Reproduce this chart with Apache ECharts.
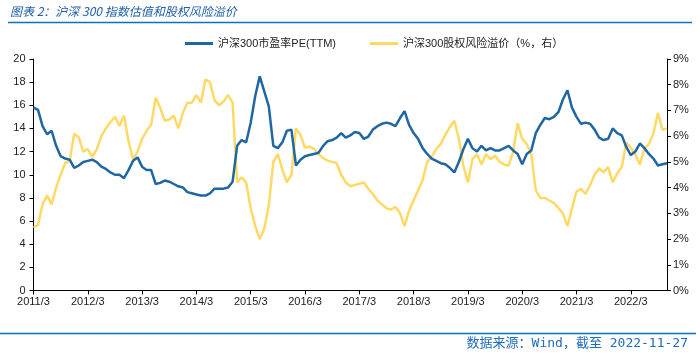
<!DOCTYPE html>
<html><head><meta charset="utf-8">
<script src="https://cdn.jsdelivr.net/npm/echarts@6/dist/echarts.min.js"></script>
<style>html,body{margin:0;padding:0;background:#fff;}#c{width:700px;height:357px;}</style>
</head><body><div id="c"></div>
<script>
const titleText = '图表 2：沪深 300 指数估值和股权风险溢价';
const sourceText = '数据来源：Wind，截至 2022-11-27';
const seriesNames = ['沪深300市盈率PE(TTM)', '沪深300股权风险溢价（%，右）'];
const startYear = 2011, startMonth = 3, monthCount = 141;
const leftTicks = [0, 20, 2];
const rightTicks = [0, 9, 1];

const pe = [
15.8,15.6,14.2,13.5,13.8,12.5,11.6,11.4,11.3,10.6,
10.8,11.1,11.2,11.3,11.1,10.7,10.5,10.2,10.0,10.0,
9.7,10.4,11.2,11.5,10.7,10.4,10.4,9.2,9.3,9.5,
9.4,9.2,9.0,8.9,8.5,8.4,8.3,8.2,8.2,8.4,
8.8,8.8,8.8,8.9,9.4,12.5,13.0,12.8,14.5,16.8,
18.5,17.2,15.9,12.5,12.3,12.8,13.8,13.9,10.8,11.3,
11.6,11.7,11.8,11.9,12.5,12.9,13.0,13.2,13.6,13.2,
13.4,13.7,13.6,13.1,13.3,13.9,14.2,14.4,14.5,14.4,
14.2,14.9,15.5,14.3,13.6,13.1,12.3,11.8,11.4,11.2,
11.0,10.9,10.6,10.2,11.1,12.2,13.1,12.3,12.0,12.5,
12.1,12.3,12.1,12.1,12.3,12.5,12.1,11.8,10.9,11.8,
12.1,13.6,14.3,14.9,14.8,15.0,15.4,16.5,17.3,15.8,
15.0,14.4,14.5,14.4,13.9,13.2,13.0,13.1,14.0,13.6,
13.4,12.4,11.7,12.0,12.7,12.3,11.8,11.4,10.8,10.9,
11.0
];
const erp = [
2.45,2.55,3.35,3.7,3.35,4.0,4.5,4.95,5.05,6.1,
5.95,5.4,5.5,5.2,5.5,6.0,6.3,6.55,6.75,6.4,
6.8,5.8,5.1,5.4,5.9,6.2,6.45,7.5,7.1,6.6,
6.65,6.8,6.3,6.9,7.3,7.3,7.6,7.3,8.2,8.1,
7.4,7.2,7.35,7.6,7.3,4.2,4.4,4.2,3.2,2.5,
2.0,2.4,3.3,5.0,5.3,4.7,4.2,4.5,6.3,6.05,
5.55,5.6,5.5,5.3,5.15,5.05,5.0,4.95,4.5,4.2,
4.05,4.1,4.15,4.2,3.95,3.75,3.5,3.35,3.2,3.15,
3.25,3.0,2.5,3.1,3.5,3.9,4.3,5.0,5.2,5.5,
5.7,6.05,6.35,6.6,5.9,4.85,4.2,5.1,5.3,4.9,
5.3,5.1,5.25,5.0,4.9,4.85,5.4,6.5,5.9,5.7,
5.3,3.9,3.6,3.6,3.5,3.4,3.2,3.0,2.5,3.2,
3.85,3.95,3.75,4.1,4.5,4.75,4.6,4.8,4.2,4.55,
4.8,5.75,5.55,5.3,4.9,5.5,5.7,6.1,6.9,6.25,
6.3
];

const categories = [];
for (let i = 0; i < monthCount; i++) {
  const t = (startMonth - 1) + i;
  categories.push((startYear + Math.floor(t / 12)) + '/' + (t % 12 + 1));
}

const blue = '#1f67a3', yellow = '#ffd966', accent = '#0a70c0';
const txt = '#222';
const ff = '"Liberation Sans", Arial, "Noto Sans CJK SC", sans-serif';

const chart = echarts.init(document.getElementById('c'), null, {renderer: 'canvas'});
chart.setOption({
  animation: false,
  backgroundColor: '#fff',
  textStyle: {fontFamily: ff},
  grid: {left: 33.5, right: 33, top: 59, bottom: 66.5, containLabel: false},
  legend: [
    {data: [seriesNames[0]], left: 180, top: 33, itemWidth: 28, itemHeight: 3, icon: 'rect',
     textStyle: {fontSize: 11, color: txt, fontFamily: ff}, itemGap: 4},
    {data: [seriesNames[1]], left: 365, top: 33, itemWidth: 28, itemHeight: 3, icon: 'rect',
     textStyle: {fontSize: 11, color: txt, fontFamily: ff}, itemGap: 4}
  ],
  xAxis: {
    type: 'category', data: categories, boundaryGap: false,
    axisLine: {lineStyle: {color: '#000', width: 1}},
    axisTick: {interval: 11, length: 4, lineStyle: {color: '#000'}},
    axisLabel: {interval: 11, color: txt, fontSize: 11, margin: 6, fontFamily: ff},
    splitLine: {show: false}
  },
  yAxis: [
    {type: 'value', min: leftTicks[0], max: leftTicks[1], interval: leftTicks[2],
     axisLine: {show: true, lineStyle: {color: '#000'}},
     axisTick: {show: true, length: 4, lineStyle: {color: '#000'}},
     axisLabel: {color: txt, fontSize: 11, margin: 8, fontFamily: ff},
     splitLine: {show: false}},
    {type: 'value', min: rightTicks[0], max: rightTicks[1], interval: rightTicks[2], position: 'right',
     axisLine: {show: true, lineStyle: {color: '#000'}},
     axisTick: {show: true, length: 4, lineStyle: {color: '#000'}},
     axisLabel: {color: txt, fontSize: 11, margin: 6, formatter: '{value}%', fontFamily: ff},
     splitLine: {show: false}}
  ],
  series: [
    {name: seriesNames[0], type: 'line', data: pe, yAxisIndex: 0, showSymbol: false, symbol: 'none',
     lineStyle: {color: blue, width: 2.5}, itemStyle: {color: blue}, z: 3},
    {name: seriesNames[1], type: 'line', data: erp, yAxisIndex: 1, showSymbol: false, symbol: 'none',
     lineStyle: {color: yellow, width: 2.5}, itemStyle: {color: yellow}, z: 2}
  ],
  graphic: [
    {type: 'text', left: 10, top: 5, style: {text: titleText, fill: '#1f5fa8', fontSize: 12,
      fontStyle: 'italic', fontFamily: '"Noto Sans CJK SC", sans-serif'}},
    {type: 'line', shape: {x1: 8, y1: 22.5, x2: 692, y2: 22.5}, style: {stroke: accent, lineWidth: 1.5}},
    {type: 'line', shape: {x1: 0, y1: 333.5, x2: 696, y2: 333.5}, style: {stroke: accent, lineWidth: 1.5}},
    {type: 'text', right: 12, top: 337, style: {text: sourceText, fill: '#1f6bbf', fontSize: 13,
      fontFamily: '"DejaVu Sans Mono", "Noto Sans CJK SC", monospace'}}
  ]
});
</script></body></html>
